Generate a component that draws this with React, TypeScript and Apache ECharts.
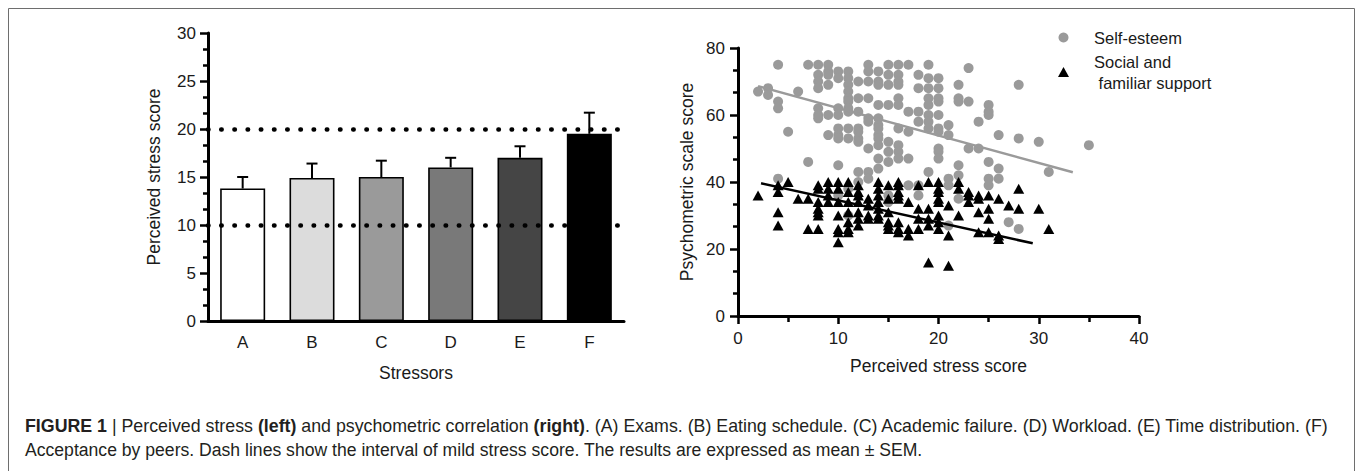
import React, { useEffect, useRef } from "react";
import * as echarts from "echarts";

// ---------- Left chart data ----------
const stressors = ["A", "B", "C", "D", "E", "F"];
const stressMeans = [13.8, 14.9, 15.0, 16.0, 17.0, 19.5];
const stressErrTop = [15.0, 16.4, 16.7, 17.0, 18.2, 21.7];
const barColors = ["#ffffff", "#dcdcdc", "#9a9a9a", "#797979", "#454545", "#000000"];
const mildStressBounds = [10, 20];

// ---------- Right chart data (x = perceived stress, y = psychometric score) ----------
const selfEsteem: [number, number][] = [
  [2, 67], [3, 68], [3, 66], [4, 75], [4, 64], [4, 62], [4, 41], [5, 55], [6, 67], [7, 75], [7, 46],
  [8, 75], [8, 72], [8, 70], [8, 68], [8, 62], [8, 60], [8, 59],
  [9, 75], [9, 73], [9, 72], [9, 69], [9, 60], [9, 54],
  [10, 73], [10, 71], [10, 62], [10, 60], [10, 56], [10, 54], [10, 53], [10, 45], [10, 36],
  [11, 73], [11, 71], [11, 69], [11, 67], [11, 65], [11, 64], [11, 62], [11, 61], [11, 56], [11, 53], [11, 38], [11, 30],
  [12, 70], [12, 65], [12, 61], [12, 56], [12, 55], [12, 53], [12, 52], [12, 43], [12, 40],
  [13, 75], [13, 73], [13, 70], [13, 65], [13, 59], [13, 58], [13, 50], [13, 43], [13, 41],
  [14, 73], [14, 70], [14, 69], [14, 63], [14, 59], [14, 57], [14, 56], [14, 54], [14, 53], [14, 51], [14, 47], [14, 44],
  [15, 75], [15, 72], [15, 69], [15, 63], [15, 52], [15, 49], [15, 46], [15, 36], [15, 34],
  [16, 75], [16, 72], [16, 70], [16, 69], [16, 65], [16, 63], [16, 56], [16, 51], [16, 49], [16, 47],
  [17, 75], [17, 61], [17, 55], [17, 47], [17, 39],
  [18, 72], [18, 68], [18, 61], [18, 58], [18, 39], [18, 36],
  [19, 75], [19, 71], [19, 68], [19, 65], [19, 63], [19, 60], [19, 58], [19, 56], [19, 43],
  [20, 71], [20, 68], [20, 65], [20, 64], [20, 60], [20, 56], [20, 55], [20, 50], [20, 49], [20, 47],
  [21, 57], [21, 54], [21, 41], [21, 39], [21, 27],
  [22, 69], [22, 65], [22, 64], [22, 45], [22, 42], [22, 35],
  [23, 74], [23, 64], [23, 50], [24, 58], [24, 50],
  [25, 63], [25, 61], [25, 60], [25, 46], [25, 41], [25, 39],
  [26, 54], [26, 44], [26, 41], [27, 28], [28, 69], [28, 53], [28, 26],
  [30, 52], [31, 43], [35, 51],
];

const socialSupport: [number, number][] = [
  [2, 36], [4, 39], [4, 37], [4, 31], [4, 27], [5, 40], [6, 35], [7, 35], [7, 26],
  [8, 39], [8, 38], [8, 34], [8, 32], [8, 31], [8, 30], [8, 26],
  [9, 40], [9, 38], [9, 36], [9, 34],
  [10, 40], [10, 38], [10, 34], [10, 30], [10, 26], [10, 25], [10, 22],
  [11, 40], [11, 37], [11, 34], [11, 31], [11, 28], [11, 26], [11, 25],
  [12, 39], [12, 37], [12, 36], [12, 34], [12, 31], [12, 29], [12, 27],
  [13, 35], [13, 33], [13, 30], [13, 29],
  [14, 40], [14, 38], [14, 36], [14, 34], [14, 32], [14, 30], [14, 29],
  [15, 39], [15, 35], [15, 31], [15, 28], [15, 27], [15, 26],
  [16, 40], [16, 39], [16, 37], [16, 36], [16, 35], [16, 28], [16, 26], [16, 25],
  [17, 34], [17, 26], [17, 24],
  [18, 39], [18, 32], [18, 29], [18, 26],
  [19, 40], [19, 32], [19, 29], [19, 27], [19, 16],
  [20, 40], [20, 38], [20, 37], [20, 35], [20, 34], [20, 30], [20, 28], [20, 26],
  [21, 33], [21, 24], [21, 15],
  [22, 40], [22, 38], [22, 30],
  [23, 37], [23, 36], [23, 34],
  [24, 36], [24, 35], [24, 31], [24, 25],
  [25, 36], [25, 32], [25, 29], [25, 25],
  [26, 35], [26, 24], [26, 23], [27, 33], [28, 38], [28, 32], [30, 32], [31, 26],
];

const selfEsteemFit: [number, number][] = [[2, 68.6], [33.4, 42.9]];
const socialSupportFit: [number, number][] = [[2.3, 39.6], [29.4, 21.7]];

const selfEsteemName = "Self-esteem";
const socialSupportName = "Social and\n familiar support";

const captionLine1 =
  "{b|FIGURE 1} | Perceived stress {b|(left)} and psychometric correlation {b|(right)}. (A) Exams. (B) Eating schedule. (C) Academic failure. (D) Workload. (E) Time distribution. (F)";
const captionLine2 =
  "Acceptance by peers. Dash lines show the interval of mild stress score. The results are expressed as mean ± SEM.";

const FONT = "'Liberation Sans', Arial, sans-serif";
const INK = "#1a1a1a";

export default function App() {
  const ref = useRef<HTMLDivElement>(null);

  useEffect(() => {
    if (!ref.current) return;
    const chart = echarts.init(ref.current, null, { renderer: "svg" });

    const axisLineStyle = { lineStyle: { color: "#000", width: 3 } };
    const labelStyle = { color: INK, fontSize: 17, fontFamily: FONT };
    const nameStyle = { color: INK, fontSize: 17.5, fontFamily: FONT };
    const capFont1 = 17.8;
    const capFont2 = 17.6;

    const option: any = {
      animation: false,
      textStyle: { fontFamily: FONT },
      grid: [
        { left: 208, top: 33, width: 416, height: 288 },
        { left: 738, top: 48, width: 401, height: 268 },
      ],
      legend: {
        orient: "vertical",
        left: 1053,
        top: 22,
        itemWidth: 11,
        itemHeight: 10,
        itemGap: 3,
        data: [
          { name: selfEsteemName, icon: "circle" },
          { name: socialSupportName, icon: "triangle" },
        ],
        textStyle: {
          color: INK,
          fontSize: 16.5,
          fontFamily: FONT,
          lineHeight: 21,
          padding: [0, 0, 0, 20],
        },
      },
      xAxis: [
        {
          gridIndex: 0,
          type: "category",
          data: stressors,
          name: "Stressors",
          nameLocation: "middle",
          nameGap: 43,
          nameTextStyle: nameStyle,
          axisLine: axisLineStyle,
          axisTick: { alignWithLabel: true, length: 8, lineStyle: { width: 2.5, color: "#000" } },
          axisLabel: { ...labelStyle, margin: 13 },
          splitLine: { show: false },
        },
        {
          gridIndex: 1,
          type: "value",
          min: 0,
          max: 40,
          interval: 10,
          name: "Perceived stress score",
          nameLocation: "middle",
          nameGap: 41,
          nameTextStyle: nameStyle,
          axisLine: { show: true, ...axisLineStyle },
          axisTick: { show: true, length: 8, lineStyle: { width: 2.5, color: "#000" } },
          minorTick: { show: true, splitNumber: 2, length: 6, lineStyle: { width: 2.5, color: "#000" } },
          axisLabel: { ...labelStyle, margin: 14 },
          splitLine: { show: false },
        },
      ],
      yAxis: [
        {
          gridIndex: 0,
          type: "value",
          min: 0,
          max: 30,
          interval: 5,
          name: "Perceived stress score",
          nameLocation: "middle",
          nameGap: 45,
          nameTextStyle: nameStyle,
          axisLine: { show: true, ...axisLineStyle },
          axisTick: { show: true, length: 8, lineStyle: { width: 2.5, color: "#000" } },
          minorTick: { show: true, splitNumber: 3, length: 5, lineStyle: { width: 2.5, color: "#000" } },
          axisLabel: { ...labelStyle, margin: 12 },
          splitLine: { show: false },
        },
        {
          gridIndex: 1,
          type: "value",
          min: 0,
          max: 80,
          interval: 20,
          name: "Psychometric scale score",
          nameLocation: "middle",
          nameGap: 42,
          nameTextStyle: nameStyle,
          axisLine: { show: true, ...axisLineStyle },
          axisTick: { show: true, length: 8, lineStyle: { width: 2.5, color: "#000" } },
          minorTick: { show: true, splitNumber: 3, length: 5, lineStyle: { width: 2.5, color: "#000" } },
          axisLabel: { ...labelStyle, margin: 13 },
          splitLine: { show: false },
        },
      ],
      series: [
        {
          type: "bar",
          xAxisIndex: 0,
          yAxisIndex: 0,
          barWidth: 45,
          data: stressMeans.map((v, i) => ({
            value: v,
            itemStyle: { color: barColors[i], borderColor: "#000", borderWidth: 1.6 },
          })),
          markLine: {
            silent: true,
            symbol: "none",
            label: { show: false },
            lineStyle: { color: "#000", width: 4.5, type: [0.5, 12.7], cap: "round" },
            data: mildStressBounds.map((v) => ({ yAxis: v })),
            z: 5,
          },
          z: 2,
        },
        {
          type: "custom",
          xAxisIndex: 0,
          yAxisIndex: 0,
          data: stressMeans.map((v, i) => [i, v, stressErrTop[i]]),
          renderItem: (params: any, api: any) => {
            const base = api.coord([api.value(0), api.value(1)]);
            const top = api.coord([api.value(0), api.value(2)]);
            const half = 5.5;
            return {
              type: "group",
              children: [
                {
                  type: "line",
                  shape: { x1: base[0], y1: base[1], x2: top[0], y2: top[1] },
                  style: { stroke: "#000", lineWidth: 2 },
                },
                {
                  type: "line",
                  shape: { x1: top[0] - half, y1: top[1], x2: top[0] + half, y2: top[1] },
                  style: { stroke: "#000", lineWidth: 2 },
                },
              ],
            };
          },
          z: 3,
        },
        {
          name: selfEsteemName,
          type: "scatter",
          xAxisIndex: 1,
          yAxisIndex: 1,
          symbol: "circle",
          symbolSize: 10,
          itemStyle: { color: "#9a9a9a", opacity: 1 },
          data: selfEsteem,
          z: 2,
        },
        {
          name: socialSupportName,
          type: "scatter",
          xAxisIndex: 1,
          yAxisIndex: 1,
          symbol: "triangle",
          symbolSize: [11, 10],
          itemStyle: { color: "#000", opacity: 1 },
          data: socialSupport,
          z: 3,
        },
        {
          type: "line",
          xAxisIndex: 1,
          yAxisIndex: 1,
          data: selfEsteemFit,
          symbol: "none",
          lineStyle: { color: "#9a9a9a", width: 2.5 },
          z: 4,
        },
        {
          type: "line",
          xAxisIndex: 1,
          yAxisIndex: 1,
          data: socialSupportFit,
          symbol: "none",
          lineStyle: { color: "#000", width: 2.5 },
          z: 4,
        },
      ],
      graphic: [
        {
          type: "rect",
          shape: { x: 8.5, y: 8.5, width: 1346, height: 500 },
          style: { fill: "none", stroke: "#6e6e6e", lineWidth: 1 },
          silent: true,
        },
        {
          type: "text",
          left: 25,
          top: 417,
          style: {
            text: captionLine1,
            fill: "#231f20",
            font: `${capFont1}px ${FONT}`,
            rich: {
              b: { fontWeight: "bold", fontSize: capFont1, fontFamily: FONT, fill: "#231f20" },
            },
          },
        },
        {
          type: "text",
          left: 25,
          top: 441,
          style: {
            text: captionLine2,
            fill: "#231f20",
            font: `${capFont2}px ${FONT}`,
          },
        },
      ],
    };

    chart.setOption(option);
    return () => chart.dispose();
  }, []);

  return (
    <div
      ref={ref}
      style={{ position: "absolute", left: 0, top: 0, width: 1357, height: 471, background: "#fff" }}
    />
  );
}
